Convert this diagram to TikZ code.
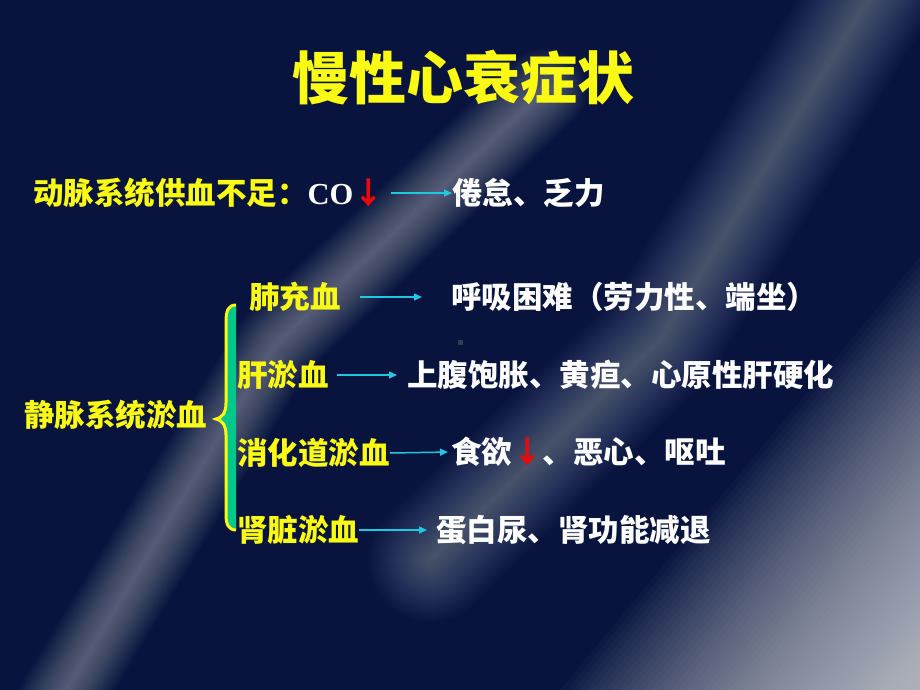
\documentclass[tikz,border=0pt]{standalone}
\usepackage{fontspec}
\setmainfont{Liberation Serif}
\newfontfamily\cjk{Noto Sans CJK SC}
\usetikzlibrary{arrows.meta}

\definecolor{bgnavy}{RGB}{8,20,62}
\definecolor{ppyellow}{RGB}{250,250,20}
\definecolor{flowcyan}{RGB}{30,200,225}
\definecolor{bracegreen}{RGB}{0,200,140}
\definecolor{downred}{RGB}{235,10,10}
\definecolor{dotgrey}{RGB}{50,58,85}

\tikzset{
  cause/.style={anchor=west, inner sep=0pt, text height=27pt, text depth=4pt,
    font=\cjk\bfseries\fontsize{30.5}{32}\selectfont, text=ppyellow},
  effect/.style={cause, text=white},
  flow/.style={flowcyan, line width=1.5pt, -{Triangle[length=8pt,width=7pt]}},
  band/.style={white, line cap=round, line join=round},
  bracepath/.style={insert path={(236,305) .. controls (228,305) and (226,311) .. (226,322)
    -- (226,403) .. controls (226,413) and (222,418) .. (216,419)
    .. controls (222,420) and (226,425) .. (226,435)
    -- (226,515) .. controls (226,525) and (229,530) .. (236,530)}}
}

\begin{document}
\begin{tikzpicture}[x=1pt, y=-1pt]
  \useasboundingbox (0,0) rectangle (920,690);

  % background with light streaks
  \begin{scope}
    \clip (0,0) rectangle (920,690);
    \fill[bgnavy] (0,0) rectangle (920,690);
    \foreach \w in {300,310,...,860}
      \draw[band, line cap=butt, opacity=0.022, line width=\w pt] (1641,62) -- (361,1602);
    \foreach \w in {3,6,...,84}
      \draw[band, opacity=0.016, line width=\w pt] (545,90) -- (275,345) -- (60,700);
    \foreach \w in {4,8,...,124}
      \draw[band, opacity=0.011, line width=\w pt] (880,-20) -- (660,340) -- (430,560);
  \end{scope}

  \fill[dotgrey] (458,340) rectangle (463,345);

  \node[cause, anchor=center, text height=50pt, text depth=7pt,
        font=\cjk\bfseries\fontsize{57}{60}\selectfont] (title) at (463,78) {慢性心衰症状};

  % arterial side
  \node[cause] (art) at (33,193) {动脉系统供血不足：\textcolor{white}{\rmfamily CO}\textcolor{downred}{↓}};
  \node[effect] (fatigue) at (452,193) {倦怠、乏力};
  \draw[flow, shorten <=7pt] (art.east) -- (fatigue.west);

  % venous side
  \node[cause] (vein) at (24,415) {静脉系统淤血};
  \fill[bracegreen, bracepath] -- cycle;
  \draw[ppyellow, line width=3pt, bracepath];

  \node[cause] (lung) at (249,297) {肺充血};
  \node[effect] (dyspnea) at (451,297) {呼吸困难（劳力性、端坐）};
  \node[cause] (liver) at (237,375) {肝淤血};
  \node[effect] (abdomen) at (407,375) {上腹饱胀、黄疸、心原性肝硬化};
  \node[cause] (gut) at (237,453) {消化道淤血};
  \node[effect] (appetite) at (451,452) {食欲\textcolor{downred}{↓}、恶心、呕吐};
  \node[cause] (kidney) at (237,530) {肾脏淤血};
  \node[effect] (urine) at (436,530) {蛋白尿、肾功能减退};

  \draw[flow, shorten <=19.5pt, shorten >=29pt] (lung.east) -- (dyspnea.west);
  \draw[flow, shorten <=8.5pt, shorten >=10pt] (liver.east) -- (abdomen.west);
  \draw[flow, shorten >=3pt] (gut.east) -- (appetite.west);
  \draw[flow, shorten >=9pt] (kidney.east) -- (urine.west);
\end{tikzpicture}
\end{document}
